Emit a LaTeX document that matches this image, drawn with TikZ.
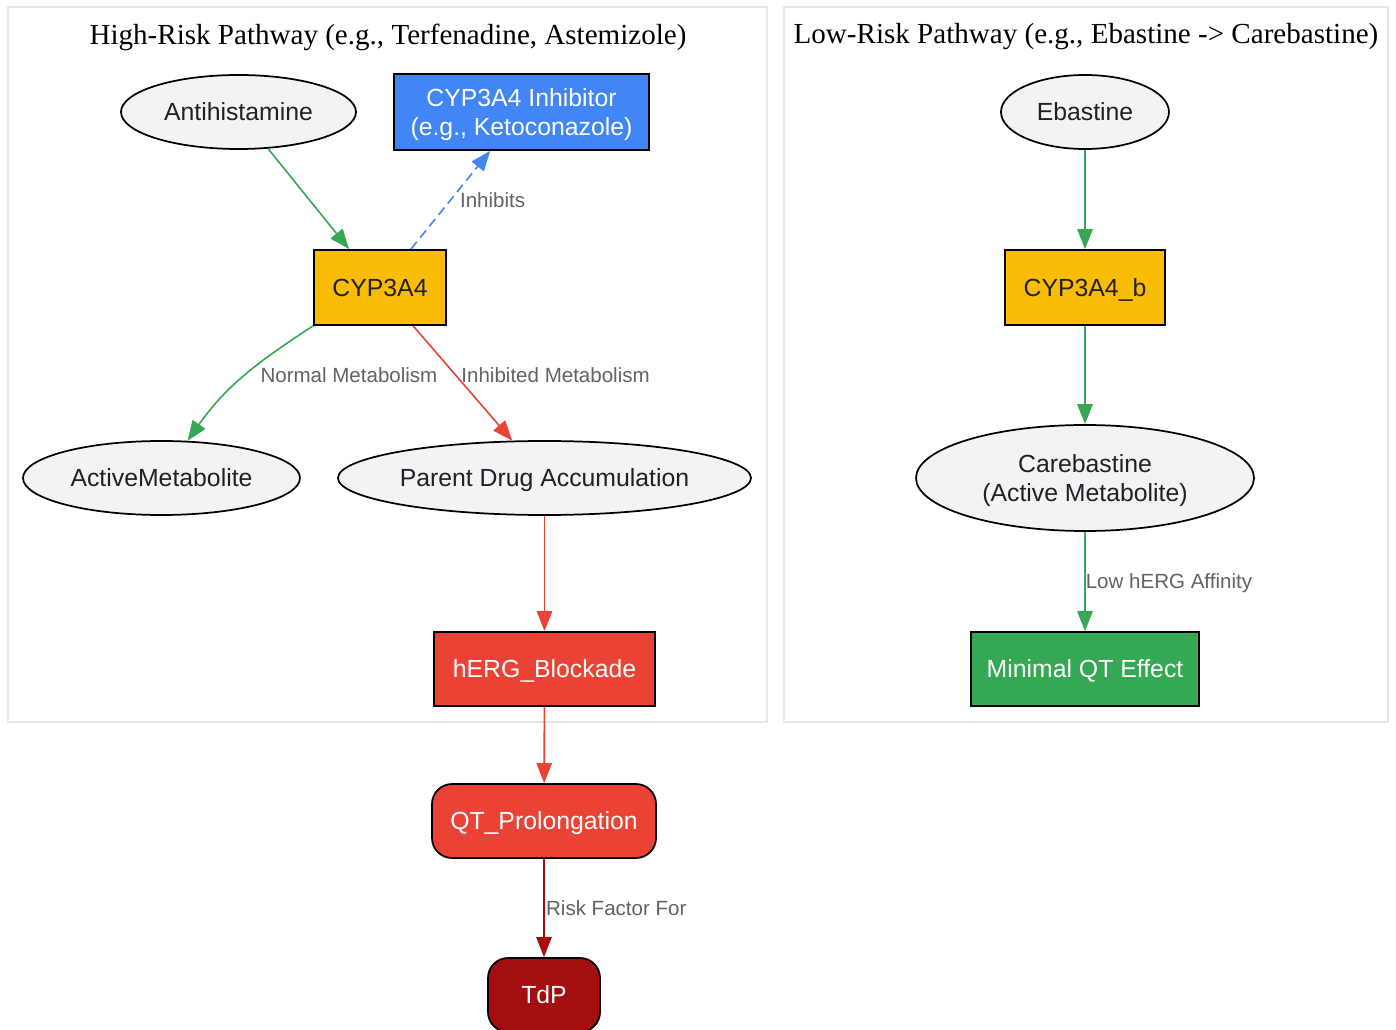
\documentclass[tikz,border=0pt]{standalone}
\usepackage{fontspec}
\setmainfont{Liberation Serif}
\setsansfont{Liberation Sans}
\usetikzlibrary{arrows.meta,shapes.geometric}
\definecolor{nodegray}{HTML}{F1F3F4}
\definecolor{textdark}{HTML}{202124}
\definecolor{labelgray}{HTML}{5F6368}
\definecolor{clustergray}{HTML}{E6E6E6}
\definecolor{gblue}{HTML}{4285F4}
\definecolor{gyellow}{HTML}{FBBC05}
\definecolor{gred}{HTML}{EA4335}
\definecolor{gdarkred}{HTML}{A50E0E}
\definecolor{ggreen}{HTML}{34A853}
\def\nodefont{\sffamily\fontsize{18.6}{21.75}\selectfont}
\tikzset{
	blob/.style={ellipse, draw=black, line width=1.3pt, fill=nodegray, text=textdark, inner sep=0pt, minimum height=55.5pt, font=\nodefont, align=center, text height=13.3pt, text depth=0pt},
	box/.style={rectangle, draw=black, line width=1.3pt, inner sep=0pt, minimum height=55.5pt, font=\nodefont, align=center, text height=13.3pt, text depth=0pt},
	pill/.style={box, rounded corners=15pt},
	twolines/.style={text height=35.05pt, text depth=0pt},
	flow/.style={line width=1.2pt, -{Triangle[length=15pt,width=11.5pt]}},
	elabel/.style={text=labelgray, font=\sffamily\fontsize{15.4}{18}\selectfont, inner sep=1pt, text height=11pt, text depth=0pt},
	cluster/.style={draw=clustergray, line width=0.8pt, fill=white},
	ctitle/.style={font=\rmfamily\fontsize{21.8}{26}\selectfont, text=black}
}

\begin{document}
\begin{tikzpicture}[x=0.75pt, y=-0.75pt]
		%%%%% START %%%%%
		
		\fill[white] (0, 0) rectangle (1396, 1030);
		\useasboundingbox (0, 0) rectangle (1396, 1030);
		
		\draw[cluster] (8, 7) rectangle (767, 722);
		\draw[cluster] (784, 7) rectangle (1388, 722);
		\node[ctitle] (hightitle) at (388, 37) {High-Risk Pathway (e.g., Terfenadine, Astemizole)};
		\node[ctitle] (lowtitle) at (1086, 37) {Low-Risk Pathway (e.g., Ebastine -> Carebastine)};
		
		\node[blob, minimum width=176.25pt] (antihist) at (238.5, 112) {Antihistamine};
		\node[box, twolines, fill=gblue, text=white, minimum width=191.25pt, minimum height=57pt] (inhib) at (521.5, 112) {CYP3A4 Inhibitor\\(e.g., Ketoconazole)};
		\node[box, fill=gyellow, text=textdark, minimum width=99pt, minimum height=56.25pt] (cyp) at (380, 287.5) {CYP3A4};
		\node[blob, minimum width=207.75pt] (activemet) at (161.5, 478) {ActiveMetabolite};
		\node[blob, minimum width=309.75pt] (parent) at (544.5, 478) {Parent Drug Accumulation};
		\node[box, fill=gred, text=white, minimum width=165.75pt] (herg) at (544.5, 669) {hERG\_Blockade};
		\node[pill, fill=gred, text=white, minimum width=168pt] (qt) at (544, 821) {QT\_Prolongation};
		\node[pill, fill=gdarkred, text=white, minimum width=84pt] (tdp) at (544, 995) {TdP};
		
		\node[blob, minimum width=126pt] (ebastine) at (1085, 112) {Ebastine};
		\node[box, fill=gyellow, text=textdark, minimum width=120pt, minimum height=56.25pt] (cypb) at (1085, 287.5) {CYP3A4\_b};
		\node[blob, twolines, minimum width=253.5pt, minimum height=79.5pt] (carebastine) at (1085, 478) {Carebastine\\(Active Metabolite)};
		\node[box, fill=ggreen, text=white, minimum width=171pt] (minimal) at (1085, 669) {Minimal QT Effect};
		
		\draw[flow, ggreen] (antihist) -- (cyp);
		\draw[flow, gblue, dash pattern=on 7pt off 4pt] (cyp) -- (inhib) node[elabel, midway, anchor=west, xshift=5.5pt] {Inhibits};
		\draw[flow, ggreen] (cyp.south west) to[out=213, in=55] node[elabel, midway, anchor=west, xshift=11pt, yshift=1pt] {Normal Metabolism} (activemet);
		\draw[flow, gred] (cyp) -- (parent) node[elabel, midway, anchor=west, xshift=-2.5pt, yshift=6pt] {Inhibited Metabolism};
		\draw[flow, gred] (parent) -- (herg);
		\draw[flow, gred] (herg) -- (qt);
		\draw[flow, gdarkred] (qt) -- (tdp) node[elabel, midway, anchor=west] {Risk Factor For};
		
		\draw[flow, ggreen] (ebastine) -- (cypb);
		\draw[flow, ggreen] (cypb) -- (carebastine);
		\draw[flow, ggreen] (carebastine) -- (minimal) node[elabel, midway, anchor=west, xshift=-1pt] {Low hERG Affinity};
		
		%%%%% END %%%%%
	\end{tikzpicture}
\end{document}
